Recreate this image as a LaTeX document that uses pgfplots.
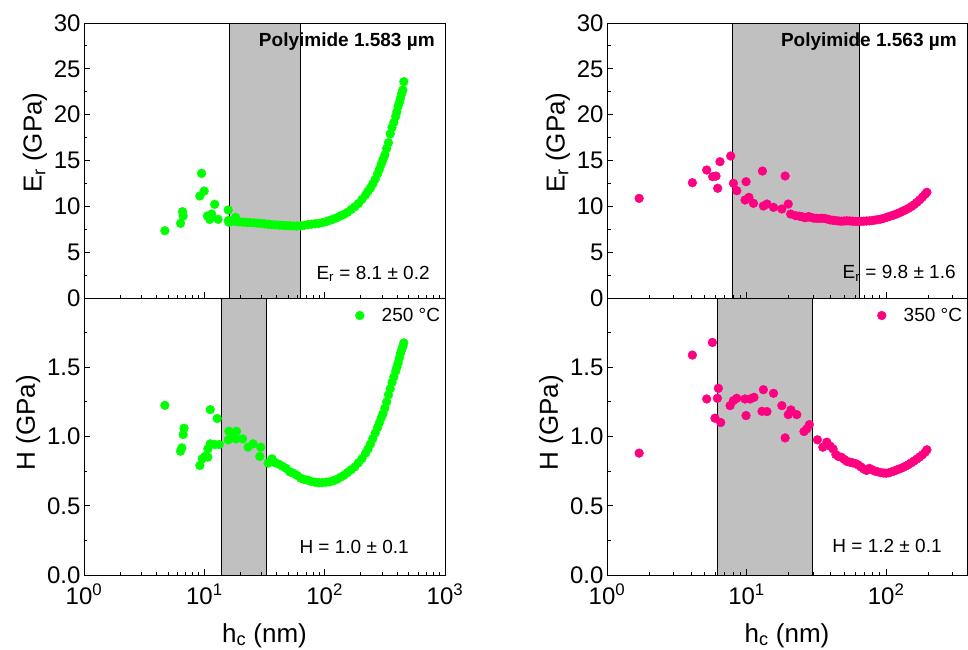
\documentclass[border=0pt]{standalone}
\usepackage{fontspec}
\setmainfont{Liberation Sans}
\usepackage{pgfplots}
\pgfplotsset{compat=1.18}
\definecolor{ogreen}{RGB}{0,255,0}
\definecolor{opink}{RGB}{255,0,128}
\definecolor{oshade}{RGB}{192,192,192}
\tikzset{
  bandfill/.style={fill=oshade, draw=black, line width=0.9pt},
  dotstyle/.style={only marks, mark=*, mark size=4.4pt},
  annnode/.style={anchor=base east, inner sep=0pt, font=\fontsize{19}{19}\selectfont},
}
\pgfplotsset{
  baseaxis/.style={scale only axis, axis on top,
    axis line style={line width=1pt, black},
    every tick/.style={line width=1pt, black},
    major tick length=6pt, minor tick length=3.5pt,
    xtick pos=bottom, ytick pos=left, tick align=inside,
    tick label style={font=\fontsize{24}{24}\selectfont},
    xticklabel style={yshift=-5pt},
    label style={font=\fontsize{26}{26}\selectfont},
    /pgf/number format/assume math mode=true,
    xtick={1,10,100,1000},
    xticklabels={10\textsuperscript{0},10\textsuperscript{1},10\textsuperscript{2},10\textsuperscript{3}},
  },
  upperaxis/.style={ymin=0, ymax=30, ytick={0,5,...,30}, minor ytick={2.5,7.5,...,27.5},
    xticklabel=\empty, ylabel={E\textsubscript{r} (GPa)},
    ylabel style={at={(ticklabel cs:0.565)}}},
  loweraxis/.style={ymin=0, ymax=2, ytick={0,0.5,1,1.5}, minor ytick={0.25,0.75,1.25,1.75},
    yticklabel style={/pgf/number format/.cd, fixed, fixed zerofill, precision=1},
    ylabel={H (GPa)}, xlabel={h\textsubscript{c} (nm)},
    xlabel style={yshift=-12pt},
    ylabel style={at={(ticklabel cs:0.55)}},
    legend style={at={(0.995,0.975)}, anchor=north east, draw=none, fill=none,
      font=\fontsize{19}{19}\selectfont, inner sep=1pt},
    legend image code/.code={
      \path[draw=none, fill=none] (-0.1cm,0cm) rectangle (0.6cm,0.01cm);
      \draw[##1, only marks] plot coordinates {(-0.1cm,0cm)};},
    legend cell align=left},
  leftrange/.style={xmin=1, xmax=1000,
    minor xtick={2,3,4,5,6,7,8,9,20,30,40,50,60,70,80,90,200,300,400,500,600,700,800,900}},
  rightrange/.style={xmin=1, xmax=380,
    minor xtick={2,3,4,5,6,7,8,9,20,30,40,50,60,70,80,90,200,300}},
}
\begin{document}
\begin{tikzpicture}
% ---------------- top left ----------------
\begin{axis}[xmode=log, baseaxis, upperaxis, leftrange, at={(84pt,-298pt)}, anchor=south west, width=361pt, height=275pt]
\addplot[bandfill, forget plot] coordinates {(16.3,0) (16.3,30) (63,30) (63,0)} -- cycle;
\addplot[dotstyle, color=ogreen] coordinates {
(4.70,7.34) (6.34,8.15) (6.59,9.42) (6.67,8.95) (9.18,11.13) (9.48,13.6) (9.97,11.67)
(10.6,8.95) (11.1,8.58) (11.5,9.16) (12.2,10.22) (13.0,8.58) (15.8,9.6) (16.0,8.26) (18.2,8.8)
(15.85,8.45) (16.98,8.40) (18.20,8.35) (19.50,8.32) (20.89,8.28) (22.39,8.25) (23.99,8.22)
(25.70,8.20) (27.54,8.17) (29.51,8.14) (31.62,8.10) (33.88,8.05) (36.31,8.00) (38.90,7.98)
(41.69,7.95) (44.67,7.93) (47.86,7.90) (51.29,7.88) (54.95,7.86) (58.88,7.85) (63.10,7.88)
(67.61,7.93) (72.44,8.00) (77.62,8.05) (83.18,8.10) (89.13,8.14) (95.50,8.22) (102.3,8.32)
(109.6,8.45) (117.5,8.60) (125.9,8.75) (134.9,8.95) (144.5,9.12) (154.9,9.35) (166.0,9.65)
(177.8,9.95) (190.5,10.3) (204.2,10.75) (218.8,11.25) (229.1,11.65) (239.9,12.0) (251.2,12.45)
(263.0,12.95) (275.4,13.55) (285.1,14.05) (295.1,14.6) (305.5,15.1) (316.2,15.6) (327.3,16.3)
(338.8,16.95) (350.8,17.9) (363.1,18.6) (375.8,19.15) (389.0,19.8) (398.1,20.3) (407.4,20.9)
(416.9,21.3) (426.6,21.8) (436.5,22.3) (446.7,22.7) (455,23.6)
};
\node[annnode, font=\bfseries\fontsize{19}{19}\selectfont] at (rel axis cs:0.972,0.913) {Polyimide 1.583 µm};
\node[annnode] at (rel axis cs:0.958,0.068) {E\textsubscript{r} = 8.1 ± 0.2};
\end{axis}
% ---------------- bottom left ----------------
\begin{axis}[xmode=log, baseaxis, loweraxis, leftrange, at={(84pt,-298pt)}, anchor=north west, width=361pt, height=277pt]
\addplot[bandfill, forget plot] coordinates {(14.0,0) (14.0,2) (33,2) (33,0)} -- cycle;
\addplot[dotstyle, color=ogreen] coordinates {
(4.70,1.225) (6.34,0.894) (6.5,0.918) (6.67,1.014) (6.78,1.06) (9.18,0.791) (9.6,0.839)
(10.1,0.856) (10.7,0.851) (10.7,0.911) (11.2,0.947) (11.2,1.194) (12.8,1.13) (12.2,0.942)
(13.3,0.942) (16.0,1.038) (15.8,0.976) (17.0,1.0) (18.5,1.038) (18.3,0.983) (20.8,0.983)
(23.1,0.923) (25.4,0.947) (29.4,0.923) (28.9,0.856) (33.9,0.808) (36.5,0.839)
(38.90,0.81) (41.69,0.80) (44.67,0.785) (47.86,0.77) (51.29,0.745) (54.95,0.735) (58.88,0.72)
(63.10,0.70) (67.61,0.69) (72.44,0.685) (77.62,0.675) (83.18,0.67) (89.13,0.667) (95.50,0.667)
(102.3,0.67) (109.6,0.672) (117.5,0.68) (125.9,0.69) (134.9,0.705) (144.5,0.72) (154.9,0.74)
(166.0,0.76) (177.8,0.78) (190.5,0.81) (204.2,0.84) (218.8,0.88) (229.1,0.91) (239.9,0.945)
(251.2,0.985) (263.0,1.025) (275.4,1.065) (285.1,1.10) (295.1,1.135) (305.5,1.165) (316.2,1.205)
(327.3,1.25) (338.8,1.30) (350.8,1.345) (363.1,1.39) (375.8,1.43) (389.0,1.47) (398.1,1.50)
(407.4,1.53) (416.9,1.565) (426.6,1.60) (436.5,1.625) (446.7,1.65) (455,1.676)
};
\addlegendentry{250 °C}
\node[annnode] at (rel axis cs:0.90,0.079) {H = 1.0 ± 0.1};
\end{axis}
% ---------------- top right ----------------
\begin{axis}[xmode=log, baseaxis, upperaxis, rightrange, at={(607pt,-298pt)}, anchor=south west, width=360pt, height=275pt]
\addplot[bandfill, forget plot] coordinates {(7.9,0) (7.9,30) (64.8,30) (64.8,0)} -- cycle;
\addplot[dotstyle, color=opink] coordinates {
(1.70,10.87) (4.09,12.58) (5.18,13.96) (5.72,13.24) (6.04,13.3) (6.21,11.97) (6.45,14.87)
(7.70,15.49) (8.05,12.51) (8.51,11.71) (9.92,12.69) (9.75,10.69) (10.4,10.98) (11.2,10.33)
(13.0,13.85) (13.2,10.04) (14.0,10.25) (15.6,9.89) (17.9,9.71) (18.9,13.31) (19.9,10.25)
(20.7,9.16) (22.5,8.98) (26.3,8.76) (28.0,8.87)
(23.99,8.92) (25.12,8.85) (27.54,8.85) (28.84,8.80) (30.20,8.72) (31.62,8.70) (33.11,8.68)
(34.67,8.70) (36.31,8.68) (38.02,8.60) (39.81,8.52) (41.69,8.48) (43.65,8.44) (45.71,8.40)
(47.86,8.38) (50.12,8.40) (52.48,8.42) (54.95,8.40) (57.54,8.38) (60.26,8.36) (63.10,8.35)
(66.07,8.36) (69.18,8.38) (72.44,8.40) (75.86,8.42) (79.43,8.45) (83.18,8.50) (87.10,8.55)
(91.20,8.60) (95.50,8.68) (100.0,8.78) (104.7,8.88) (109.6,8.98) (114.8,9.08) (120.2,9.20)
(125.9,9.33) (131.8,9.48) (138.0,9.62) (144.5,9.78) (151.4,9.97) (158.5,10.18) (166.0,10.42)
(173.8,10.70) (182.0,11.00) (190.5,11.32) (196,11.53)
};
\node[annnode, font=\bfseries\fontsize{19}{19}\selectfont] at (rel axis cs:0.972,0.913) {Polyimide 1.563 µm};
\node[annnode] at (rel axis cs:0.969,0.07) {E\textsubscript{r} = 9.8 ± 1.6};
\end{axis}
% ---------------- bottom right ----------------
\begin{axis}[xmode=log, baseaxis, loweraxis, rightrange, at={(607pt,-298pt)}, anchor=north west, width=360pt, height=277pt]
\addplot[bandfill, forget plot] coordinates {(6.18,0) (6.18,2) (29.6,2) (29.6,0)} -- cycle;
\addplot[dotstyle, color=opink] coordinates {
(1.70,0.880) (4.09,1.588) (5.69,1.679) (5.18,1.271) (6.28,1.348) (6.18,1.276) (5.94,1.132)
(6.53,1.101) (7.62,1.223) (8.05,1.259) (8.51,1.276) (9.92,1.151) (9.75,1.271) (10.6,1.271)
(11.3,1.283) (13.2,1.338) (12.9,1.182) (14.0,1.18) (15.6,1.312) (17.9,1.223) (18.9,0.99)
(19.9,1.158) (20.8,1.192) (22.9,1.158) (25.8,1.036) (27.0,1.055) (28.2,1.086) (32.2,0.976)
(35.2,0.923) (37.6,0.959)
(39.81,0.93) (41.69,0.91) (43.65,0.87) (45.71,0.855) (47.86,0.85) (50.12,0.835) (52.48,0.82)
(54.95,0.815) (57.54,0.81) (60.26,0.805) (63.10,0.795) (66.07,0.78) (69.18,0.765) (72.44,0.755)
(75.86,0.77) (79.43,0.76) (83.18,0.75) (87.10,0.745) (91.20,0.74) (95.50,0.737) (100.0,0.735)
(104.7,0.738) (109.6,0.745) (114.8,0.752) (120.2,0.76) (125.9,0.768) (131.8,0.776) (138.0,0.786)
(144.5,0.797) (151.4,0.81) (158.5,0.823) (166.0,0.837) (173.8,0.852) (182.0,0.868) (190.5,0.887)
(196,0.904)
};
\addlegendentry{350 °C}
\node[annnode] at (rel axis cs:0.93,0.083) {H = 1.2 ± 0.1};
\end{axis}
\pgfresetboundingbox
\path[use as bounding box] (0pt,0pt) rectangle (968pt,-649pt);
\end{tikzpicture}
\end{document}
